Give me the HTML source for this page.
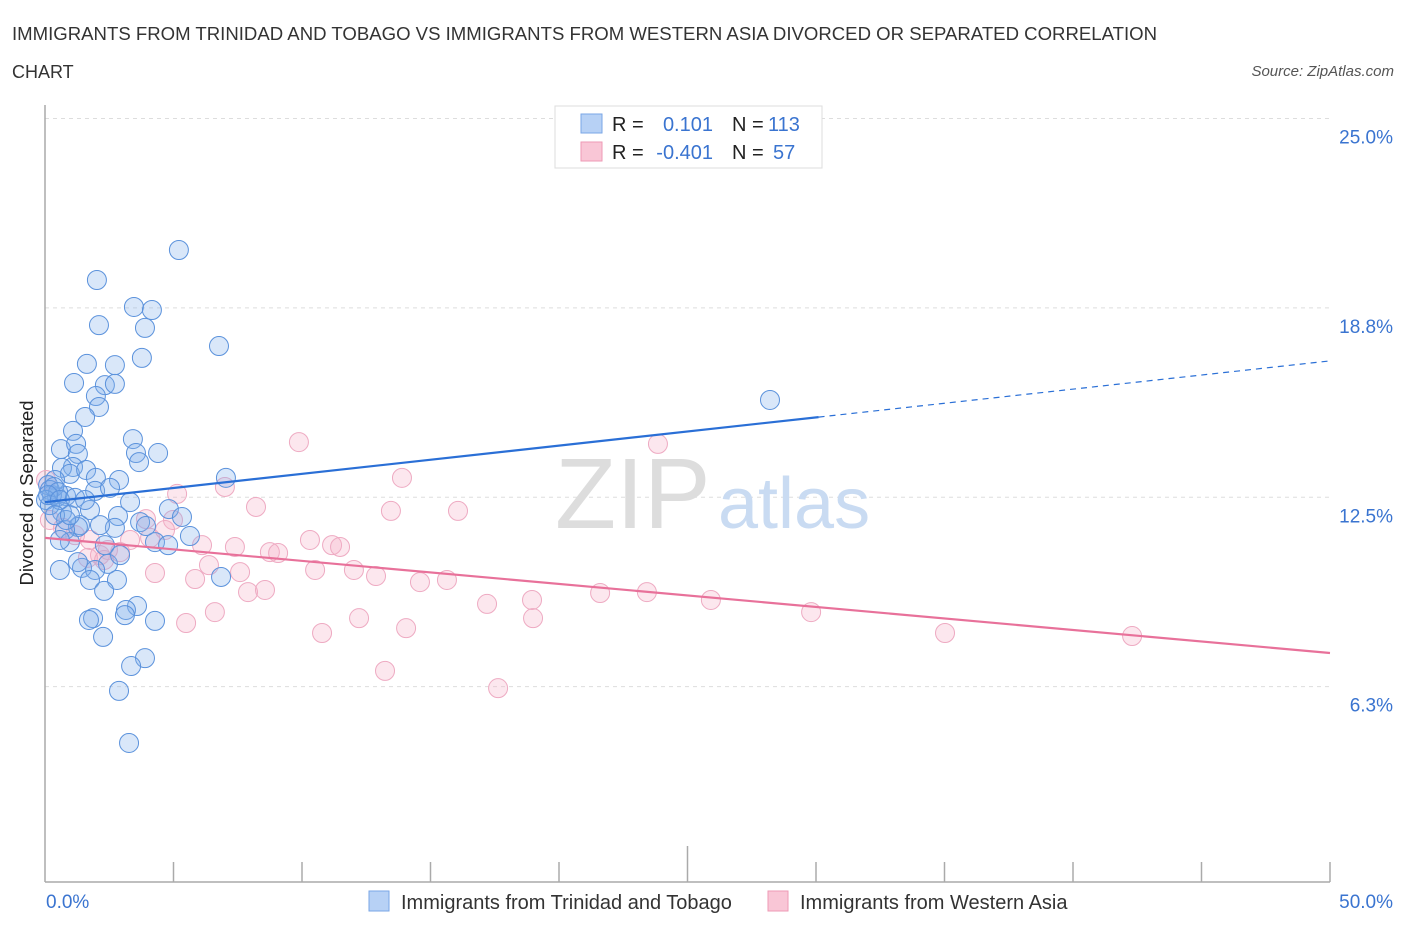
<!DOCTYPE html>
<html><head><meta charset="utf-8"><style>
body{margin:0;background:#fff;font-family:"Liberation Sans",sans-serif;}
svg text{font-family:"Liberation Sans",sans-serif;}
</style></head><body>
<svg id="chart" width="1406" height="930" viewBox="0 0 1406 930">
<text x="12" y="40" font-size="18" fill="#333" textLength="1145" lengthAdjust="spacingAndGlyphs">IMMIGRANTS FROM TRINIDAD AND TOBAGO VS IMMIGRANTS FROM WESTERN ASIA DIVORCED OR SEPARATED CORRELATION</text>
<text x="12" y="78" font-size="18" fill="#333">CHART</text>
<text x="1394" y="76" font-size="15" fill="#555" font-style="italic" text-anchor="end">Source: ZipAtlas.com</text>
<g id="grid"></g>
<text x="555" y="528" font-size="100" fill="#ddd" font-family="Liberation Serif">ZIP</text>
<text x="718" y="528" font-size="72" fill="#c9dbf2">atlas</text>
<line x1="45" y1="105" x2="45" y2="882" stroke="#aaa" stroke-width="1.5"/>
<line x1="45" y1="882" x2="1330" y2="882" stroke="#aaa" stroke-width="1.5"/>
<g id="xticks"></g>
<g id="pts"></g>
<g id="trends"></g>
<text x="33" y="493" font-size="18.5" fill="#222" transform="rotate(-90 33 493)" text-anchor="middle">Divorced or Separated</text>
<text x="46" y="908" font-size="19" fill="#3a74d0">0.0%</text>
<text x="1393" y="908" font-size="19" fill="#3a74d0" text-anchor="end">50.0%</text>
<g>
<rect x="555" y="106" width="267" height="62" fill="#fff" stroke="#ddd"/>
<rect x="581" y="114" width="21" height="19" fill="#b7d1f5" stroke="#7aa6e6"/>
<rect x="581" y="142" width="21" height="19" fill="#f9c6d6" stroke="#ee9ab5"/>
<text x="612" y="131" font-size="20" fill="#222">R =</text>
<text x="713" y="131" font-size="20" fill="#3a74d0" text-anchor="end">0.101</text>
<text x="732" y="131" font-size="20" fill="#222">N =</text>
<text x="768" y="131" font-size="20" fill="#3a74d0">113</text>
<text x="612" y="159" font-size="20" fill="#222">R =</text>
<text x="713" y="159" font-size="20" fill="#3a74d0" text-anchor="end">-0.401</text>
<text x="732" y="159" font-size="20" fill="#222">N =</text>
<text x="773" y="159" font-size="20" fill="#3a74d0">57</text>
</g>
<g>
<rect x="369" y="891" width="20" height="20" fill="#b7d1f5" stroke="#7aa6e6"/>
<text x="401" y="909" font-size="20" fill="#333">Immigrants from Trinidad and Tobago</text>
<rect x="768" y="891" width="20" height="20" fill="#f9c6d6" stroke="#ee9ab5"/>
<text x="800" y="909" font-size="20" fill="#333">Immigrants from Western Asia</text>
</g>
</svg>
<script>
const yTicks=[25,18.75,12.5,6.25];
const yTickLabels=["25.0%","18.8%","12.5%","6.3%"];
const blueX=[5.21,2.02,3.46,4.16,2.10,3.89,6.77,1.63,2.72,3.77,1.13,2.33,2.72,1.98,2.10,1.56,1.09,3.42,0.62,1.21,3.54,4.40,1.28,3.66,1.09,0.66,7.04,2.88,0.97,1.60,1.98,0.39,1.95,2.53,0.47,0.82,0.27,3.31,4.82,1.75,0.66,2.84,5.33,1.36,3.70,2.72,1.28,3.93,0.78,5.64,2.33,0.97,4.28,4.79,0.58,1.44,2.45,1.95,2.80,1.75,6.85,2.30,3.58,3.15,4.28,1.87,1.71,3.11,3.89,3.35,2.26,2.88,3.27,28.21,0.12,0.19,0.35,0.51,0.04,0.19,0.12,0.58,0.82,1.17,1.56,2.14,0.58,1.28,2.92,0.39,0.97];
const blueY=[20.66,19.67,18.78,18.68,18.18,18.09,17.49,16.90,16.86,17.10,16.27,16.20,16.24,15.84,15.48,15.15,14.69,14.42,14.09,14.26,13.96,13.96,13.93,13.66,13.50,13.47,13.14,13.07,13.27,13.40,13.14,13.07,12.71,12.81,12.51,12.54,12.57,12.34,12.11,12.08,12.01,11.88,11.85,11.58,11.68,11.49,11.52,11.55,11.42,11.22,10.92,11.02,11.02,10.92,10.10,10.17,10.30,10.10,9.77,9.77,9.87,9.41,8.91,8.78,8.42,8.51,8.45,8.61,7.19,6.93,7.89,6.11,4.39,15.71,12.90,12.74,12.84,12.67,12.41,12.24,12.57,12.41,11.75,12.48,12.41,11.58,11.09,10.36,10.59,11.91,11.91];
const pinkX=[9.88,13.89,7.00,5.14,8.21,13.46,16.07,3.93,4.98,0.04,0.19,0.70,1.17,1.75,2.14,3.31,4.09,4.67,6.11,7.39,8.75,9.07,10.31,11.17,11.48,2.92,2.45,1.67,4.28,5.84,6.38,7.59,7.90,8.56,10.51,12.02,12.88,14.59,15.64,17.20,18.95,18.99,21.60,23.42,25.91,29.81,35.02,42.30,23.85,5.49,6.61,10.78,12.22,14.05,13.23,17.63,2.30];
const pinkY=[14.32,13.14,12.84,12.61,12.18,12.05,12.05,11.78,11.75,13.07,11.75,11.49,11.25,11.09,10.59,11.09,11.16,11.42,10.92,10.86,10.69,10.66,11.09,10.92,10.86,10.69,10.76,10.50,10.00,9.80,10.26,10.03,9.37,9.44,10.10,10.10,9.90,9.70,9.77,8.98,9.11,8.51,9.34,9.37,9.11,8.71,8.02,7.92,14.26,8.35,8.71,8.02,8.51,8.18,6.77,6.20,10.43];
const blueTrend=[12.34,17.0];
const blueSolidEnd=30.1;
const pinkTrend=[11.16,7.36];
const NS="http://www.w3.org/2000/svg";
const X=v=>45+v*25.7;
const Y=v=>876-v*30.3;
function mk(tag,attrs,parent){const e=document.createElementNS(NS,tag);for(const k in attrs)e.setAttribute(k,attrs[k]);parent.appendChild(e);return e;}
const grid=document.getElementById('grid');
yTicks.forEach((t,i)=>{
 const l=mk('line',{x1:45,x2:1330,y1:Y(t),y2:Y(t),stroke:'#ddd','stroke-dasharray':'4,4'},grid);
 
 
 const tx=mk('text',{x:1393,y:Y(t)+25,'font-size':19,fill:'#3a74d0','text-anchor':'end'},grid);
 tx.textContent=yTickLabels[i];
 
 
});
const xt=document.getElementById('xticks');
for(let v=5;v<=50;v+=5){
 const l=mk('line',{x1:X(v),x2:X(v),y1:v===25?846:862,y2:882,stroke:'#aaa','stroke-width':1.5},xt);
 
 
}
const pts=document.getElementById('pts');
pinkX.forEach((x,i)=>{
 const c=mk('circle',{cx:X(x),cy:Y(pinkY[i]),r:9.5,fill:'rgba(246,175,200,0.3)',stroke:'#eeaac2','stroke-width':1},pts);
 
 
});
blueX.forEach((x,i)=>{
 const c=mk('circle',{cx:X(x),cy:Y(blueY[i]),r:9.5,fill:'rgba(130,175,235,0.3)',stroke:'#5b92dc','stroke-width':1},pts);
 
 
});
const tr=document.getElementById('trends');
const by=v=>blueTrend[0]+(blueTrend[1]-blueTrend[0])*v/50;
const b1=mk('line',{x1:X(0),y1:Y(by(0)),x2:X(blueSolidEnd),y2:Y(by(blueSolidEnd)),stroke:'#2a6fd6','stroke-width':2.2},tr);


const b2=mk('line',{x1:X(blueSolidEnd),y1:Y(by(blueSolidEnd)),x2:X(50),y2:Y(by(50)),stroke:'#2a6fd6','stroke-width':1.2,'stroke-dasharray':'6,5'},tr);


const p1=mk('line',{x1:X(0),y1:Y(pinkTrend[0]),x2:X(50),y2:Y(pinkTrend[1]),stroke:'#e8719a','stroke-width':2.2},tr);


</script>
</body></html>
